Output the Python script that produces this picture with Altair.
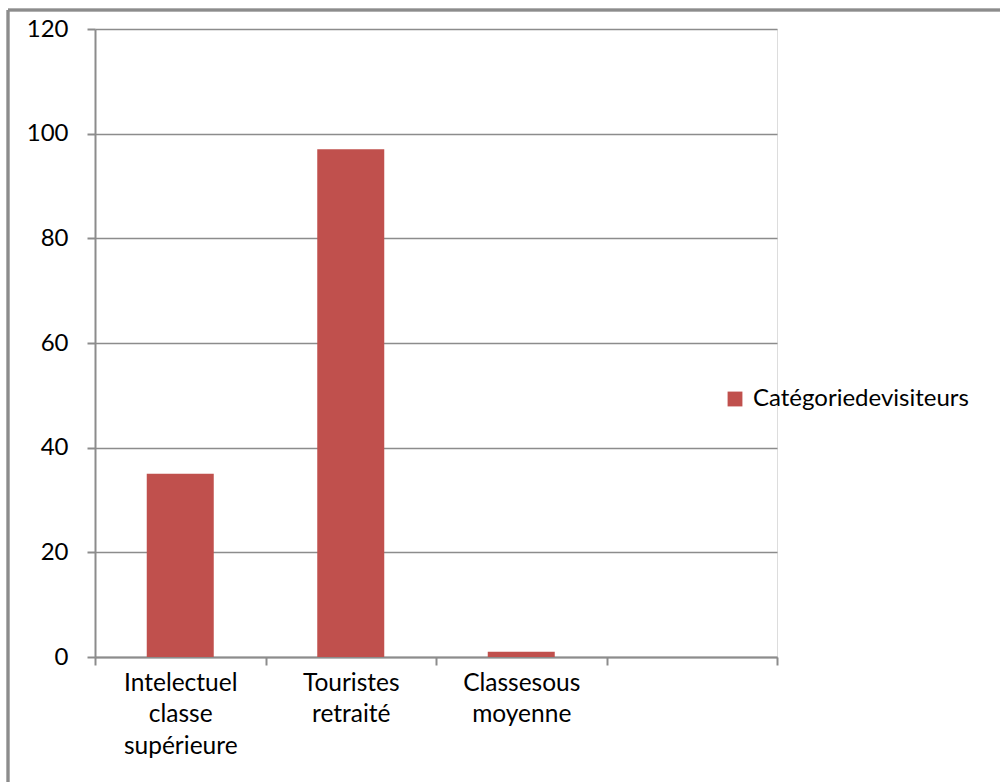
import altair as alt
import pandas as pd

categories = ["Intelectuel|classe|supérieure", "Touristes|retraité", "Classesous|moyenne", " "]
values = [35, 97, 1, None]
series_name = "Catégoriedevisiteurs"
y_ticks = [0, 20, 40, 60, 80, 100, 120]

df = pd.DataFrame({"cat": categories, "val": values, "serie": [series_name] * 4})

FONT = "Lato"
GRAY = "#8c8c8c"

bars = alt.Chart(df).mark_bar(size=67).encode(
    x=alt.X(
        "cat:N",
        sort=categories,
        scale=alt.Scale(domain=categories, paddingInner=0, paddingOuter=0),
        axis=alt.Axis(
            title=None,
            labelAngle=0,
            labelExpr="isValid(datum.value) ? split(datum.value, '|') : ''",
            labelFont=FONT,
            labelFontSize=24.5,
            labelColor="#000000",
            labelLineHeight=31.5,
            labelPadding=6,
            labelBaseline="top",
            labelLimit=0,
            tickBand="extent",
            tickSize=8,
            tickColor=GRAY,
            tickWidth=2,
            domainColor=GRAY,
            domainWidth=2,
            grid=False,
        ),
    ),
    y=alt.Y(
        "val:Q",
        scale=alt.Scale(domain=[0, 120], nice=False),
        axis=alt.Axis(
            title=None,
            values=y_ticks,
            labelFont=FONT,
            labelFontSize=24,
            labelColor="#000000",
            labelPadding=19,
            tickSize=8,
            tickColor=GRAY,
            tickWidth=2,
            domainColor=GRAY,
            domainWidth=2,
            grid=True,
            gridColor=GRAY,
            gridWidth=1.5,
        ),
    ),
    color=alt.Color(
        "serie:N",
        scale=alt.Scale(domain=[series_name], range=["#C0504D"]),
        legend=alt.Legend(
            title=None,
            orient="none",
            legendX=628,
            legendY=358,
            symbolType="square",
            symbolSize=220,
            symbolStrokeWidth=0,
            labelFont=FONT,
            labelFontSize=24,
            labelColor="#000000",
            labelOffset=6,
            labelLimit=0,
        ),
    ),
)

frame_top = alt.Chart(df).mark_rule(color=GRAY, strokeWidth=2.5).encode(
    x=alt.value(-87), x2=alt.value(1000), y=alt.value(-19)
)
frame_left = alt.Chart(df).mark_rule(color=GRAY, strokeWidth=2.5).encode(
    x=alt.value(-87), y=alt.value(-19), y2=alt.value(800)
)

chart = (
    alt.layer(bars, frame_top, frame_left)
    .properties(
        width=682,
        height=628,
        autosize=alt.AutoSizeParams(type="none"),
        padding={"left": 95, "top": 29, "right": 223, "bottom": 125},
    )
    .configure_view(stroke=None)
    .configure(background="white")
)

chart.save("out.html", embed_options={"renderer": "svg", "actions": False})
